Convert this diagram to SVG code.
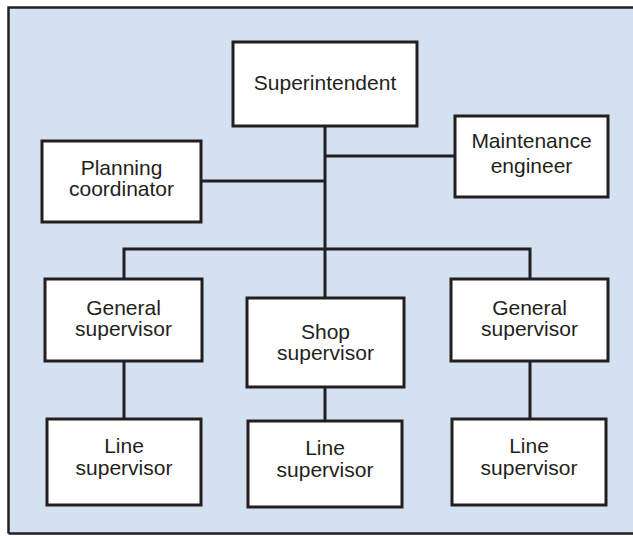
<svg xmlns="http://www.w3.org/2000/svg" width="633" height="536" viewBox="0 0 633 536">
  <style>
    .box { fill: #ffffff; stroke: #231f20; stroke-width: 3; }
    .wire { fill: none; stroke: #231f20; stroke-width: 3; }
    .label { font-family: "Liberation Sans", Arial, sans-serif; font-size: 21px; fill: #231f20; text-anchor: middle; }
  </style>
  <rect width="633" height="536" fill="#ffffff"/>
  <!-- panel -->
  <rect x="8.5" y="7.5" width="640" height="526" fill="#d4e1f1"/>
  <path d="M8.5 533.5 V7.5 H640 M8.5 533.5 H640" fill="none" stroke="#231f20" stroke-width="2.5"/>

  <g id="connectors">
    <path class="wire" d="M325 126 V298"/>
    <path class="wire" d="M201 181 H325"/>
    <path class="wire" d="M325 156 H455"/>
    <path class="wire" d="M124 279 V249 H530 V279"/>
    <path class="wire" d="M124 361 V419"/>
    <path class="wire" d="M325 387 V421"/>
    <path class="wire" d="M530 361 V419"/>
  </g>

  <g id="superintendent">
    <rect class="box" x="233" y="42" width="184" height="84"/>
    <text class="label" x="325" y="90">Superintendent</text>
  </g>
  <g id="planning-coordinator">
    <rect class="box" x="42" y="141" width="159" height="81"/>
    <text class="label" x="121.5" y="175">Planning</text>
    <text class="label" x="121.5" y="196">coordinator</text>
  </g>
  <g id="maintenance-engineer">
    <rect class="box" x="455" y="116" width="153" height="81"/>
    <text class="label" x="531.5" y="148">Maintenance</text>
    <text class="label" x="531.5" y="173">engineer</text>
  </g>
  <g id="general-supervisor-left">
    <rect class="box" x="45" y="279" width="157" height="82"/>
    <text class="label" x="123.5" y="315">General</text>
    <text class="label" x="123.5" y="336">supervisor</text>
  </g>
  <g id="shop-supervisor">
    <rect class="box" x="247" y="298" width="157" height="89"/>
    <text class="label" x="325.5" y="339">Shop</text>
    <text class="label" x="325.5" y="360">supervisor</text>
  </g>
  <g id="general-supervisor-right">
    <rect class="box" x="451" y="279" width="157" height="82"/>
    <text class="label" x="529.5" y="315">General</text>
    <text class="label" x="529.5" y="336">supervisor</text>
  </g>
  <g id="line-supervisor-left">
    <rect class="box" x="47" y="419" width="154" height="86"/>
    <text class="label" x="124" y="453">Line</text>
    <text class="label" x="124" y="475">supervisor</text>
  </g>
  <g id="line-supervisor-middle">
    <rect class="box" x="248" y="421" width="154" height="86"/>
    <text class="label" x="325" y="455">Line</text>
    <text class="label" x="325" y="477">supervisor</text>
  </g>
  <g id="line-supervisor-right">
    <rect class="box" x="452" y="419" width="154" height="86"/>
    <text class="label" x="529" y="453">Line</text>
    <text class="label" x="529" y="475">supervisor</text>
  </g>
</svg>
